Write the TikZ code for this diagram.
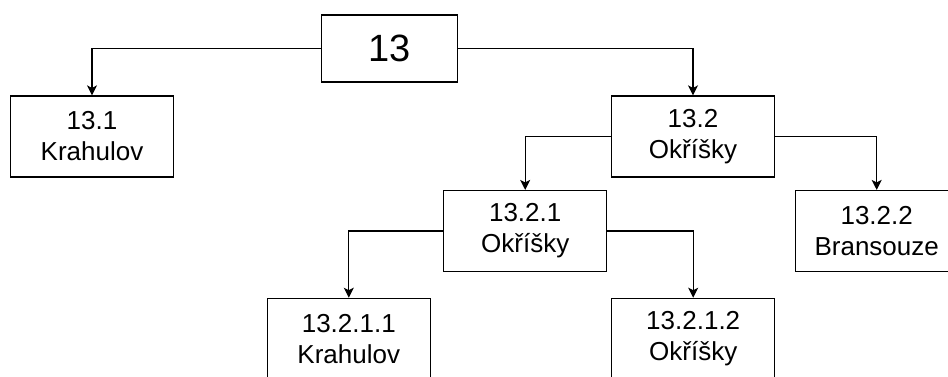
\documentclass[tikz,border=0pt]{standalone}
\usepackage{fontspec}
\setmainfont{Liberation Sans}
\usetikzlibrary{arrows.meta}
\begin{document}
\begin{tikzpicture}[x=1pt,y=-1pt,
  box/.style={draw=black,line width=1.2pt,fill=white,minimum width=163pt,minimum height=81pt,
    align=center,inner sep=0pt,font=\fontsize{26}{31}\selectfont},
  topbox/.style={box,minimum width=136pt,minimum height=67pt,font=\fontsize{38}{44}\selectfont},
  conn/.style={draw=black,line width=1.2pt,-{Stealth[length=10pt,width=10pt,inset=2.5pt]}}]
\useasboundingbox (0,0) rectangle (948,376);
\clip (0,0) rectangle (948,376);
\node[topbox] (t) at (389.5,48.4) {13};
\node[box] (a) at (92,136.5) {13.1\\Krahulov};
\node[box] (b) at (693,136.5) {13.2\\Okříšky};
\node[box] (b1) at (525.2,231) {13.2.1\\Okříšky};
\node[box] (b2) at (876.7,231) {13.2.2\\Bransouze};
\node[box] (b11) at (348.8,338.8) {13.2.1.1\\Krahulov};
\node[box] (b12) at (693.2,338.8) {13.2.1.2\\Okříšky};
\draw[conn] (t.west) -| (a.north);
\draw[conn] (t.east) -| (b.north);
\draw[conn] (b.west) -| (b1.north);
\draw[conn] (b.east) -| (b2.north);
\draw[conn] (b1.west) -| (b11.north);
\draw[conn] (b1.east) -| (b12.north);
\end{tikzpicture}
\end{document}
